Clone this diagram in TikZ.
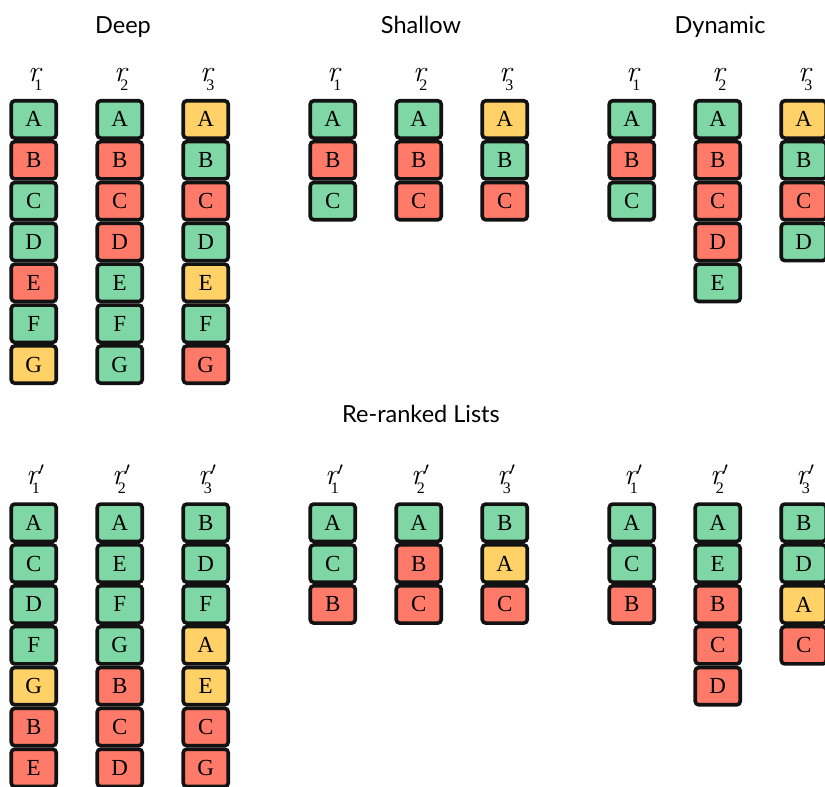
\documentclass[tikz,border=0pt]{standalone}
\usepackage{fontspec}
\newfontfamily\titlefont{Lato}
\newfontfamily\cellfont{Liberation Serif}
\definecolor{cg}{RGB}{126,215,165}
\definecolor{cr}{RGB}{255,122,104}
\definecolor{cy}{RGB}{255,209,102}
\definecolor{edge}{RGB}{18,18,18}
\newcommand\rankcol[4]{%
  \foreach \lt/\cc [count=\nn] in {#4} {%
    \node[cell, fill=\cc] (#1-\nn) at ({#2},{#3+40.86*(\nn-1)}) {\lt};
  }}
\newcommand\rlab[1]{{\fontsize{30}{30}\selectfont\itshape r}\llap{\raisebox{-9.5pt}{\cellfont\fontsize{16}{16}\selectfont #1}\kern-2pt}}
\newcommand\rlabp[1]{{\fontsize{30}{30}\selectfont\itshape r}\kern0.5pt{\fontsize{26}{26}\selectfont$'$}\llap{\raisebox{-9.5pt}{\cellfont\fontsize{16}{16}\selectfont #1}\kern4.5pt}}
\begin{document}
\begin{tikzpicture}[x=1pt,y=-1pt,
  cell/.style={draw=edge, line width=3.6pt, rounded corners=3.5pt,
    minimum width=45pt, minimum height=37.3pt, inner sep=0pt,
    font=\cellfont\fontsize{23}{23}\selectfont},
  ttl/.style={anchor=base, font=\titlefont\fontsize{23.5}{23.5}\selectfont},
  lab/.style={anchor=base, inner sep=0pt}]
\useasboundingbox (0,0) rectangle (825,787);
% titles
\node[ttl] (tdeep) at (123,33) {Deep};
\node[ttl] (tshal) at (421,33) {Shallow};
\node[ttl] (tdyn) at (720,33) {Dynamic};
\node[ttl] (trr) at (421,422) {Re-ranked Lists};
% labels
\foreach \x/\s [count=\k] in {33.75/1,119.75/2,205.75/3,332.75/1,418.75/2,504.75/3,631.75/1,717.75/2,803.75/3} {
  \node[lab] (lt\k) at (\x+0.5,81) {\rlab{\s}};
  \node[lab] (lb\k) at (\x+1.5,484) {\rlabp{\s}};
}
% top lists
\rankcol{da}{33.75}{119.4}{A/cg,B/cr,C/cg,D/cg,E/cr,F/cg,G/cy}
\rankcol{db}{119.75}{119.4}{A/cg,B/cr,C/cr,D/cr,E/cg,F/cg,G/cg}
\rankcol{dc}{205.75}{119.4}{A/cy,B/cg,C/cr,D/cg,E/cy,F/cg,G/cr}
\rankcol{sa}{332.75}{119.4}{A/cg,B/cr,C/cg}
\rankcol{sb}{418.75}{119.4}{A/cg,B/cr,C/cr}
\rankcol{sc}{504.75}{119.4}{A/cy,B/cg,C/cr}
\rankcol{ya}{631.75}{119.4}{A/cg,B/cr,C/cg}
\rankcol{yb}{717.75}{119.4}{A/cg,B/cr,C/cr,D/cr,E/cg}
\rankcol{yc}{803.75}{119.4}{A/cy,B/cg,C/cr,D/cg}
% re-ranked lists
\rankcol{rda}{33.75}{522.7}{A/cg,C/cg,D/cg,F/cg,G/cy,B/cr,E/cr}
\rankcol{rdb}{119.75}{522.7}{A/cg,E/cg,F/cg,G/cg,B/cr,C/cr,D/cr}
\rankcol{rdc}{205.75}{522.7}{B/cg,D/cg,F/cg,A/cy,E/cy,C/cr,G/cr}
\rankcol{rsa}{332.75}{522.7}{A/cg,C/cg,B/cr}
\rankcol{rsb}{418.75}{522.7}{A/cg,B/cr,C/cr}
\rankcol{rsc}{504.75}{522.7}{B/cg,A/cy,C/cr}
\rankcol{rya}{631.75}{522.7}{A/cg,C/cg,B/cr}
\rankcol{ryb}{717.75}{522.7}{A/cg,E/cg,B/cr,C/cr,D/cr}
\rankcol{ryc}{803.75}{522.7}{B/cg,D/cg,A/cy,C/cr}
\end{tikzpicture}
\end{document}
